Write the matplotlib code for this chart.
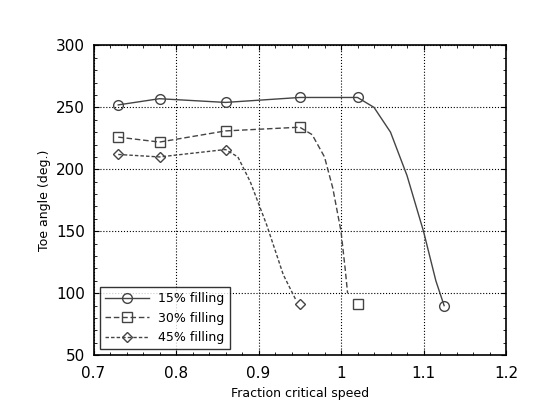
import matplotlib
matplotlib.use('Agg')
import matplotlib.pyplot as plt
from matplotlib.ticker import AutoMinorLocator

# marker points
x15 = [0.73, 0.78, 0.86, 0.95, 1.02, 1.125]
y15 = [252, 257, 254, 258, 258, 90]
x30 = [0.73, 0.78, 0.86, 0.95, 1.02]
y30 = [226, 222, 231, 234, 91]
x45 = [0.73, 0.78, 0.86, 0.95]
y45 = [212, 210, 216, 91]

# curve paths
cx15 = [0.73, 0.78, 0.86, 0.95, 1.02, 1.04, 1.06, 1.08, 1.10, 1.115, 1.125]
cy15 = [252, 257, 254, 258, 258, 250, 230, 195, 150, 110, 90]
cx30 = [0.73, 0.78, 0.86, 0.95, 0.965, 0.98, 0.99, 1.0, 1.005, 1.008]
cy30 = [226, 222, 231, 234, 228, 210, 185, 150, 120, 100]
cx45 = [0.73, 0.78, 0.86, 0.875, 0.89, 0.91, 0.93, 0.945]
cy45 = [212, 210, 216, 210, 190, 155, 115, 95]

fig, ax = plt.subplots(figsize=(5.5, 4.13), dpi=100)
fig.subplots_adjust(left=0.17, right=0.92, bottom=0.14, top=0.89)

c = '#444444'
ax.plot(cx15, cy15, '-', color=c, lw=1)
ax.plot(cx30, cy30, '--', color=c, lw=1, dashes=(4, 2))
ax.plot(cx45, cy45, '--', color=c, lw=1, dashes=(2.5, 1.5))
ax.plot(x15, y15, 'o', mfc='none', mec=c, ms=7)
ax.plot(x30, y30, 's', mfc='none', mec=c, ms=7)
ax.plot(x45, y45, 'D', mfc='none', mec=c, ms=5.5)

# legend proxies
ax.plot([], [], '-o', color=c, mfc='none', lw=1, ms=7, label='15% filling')
ax.plot([], [], '--s', color=c, mfc='none', lw=1, ms=7, dashes=(4, 2), label='30% filling')
ax.plot([], [], '--D', color=c, mfc='none', lw=1, ms=5.5, dashes=(2.5, 1.5), label='45% filling')
ax.legend(loc='lower left', fontsize=9, fancybox=False, edgecolor='black', handlelength=3.5)

ax.set_xlim(0.7, 1.2)
ax.set_ylim(50, 300)
ax.set_xticks([0.7, 0.8, 0.9, 1.0, 1.1, 1.2])
ax.set_xticklabels(['0.7', '0.8', '0.9', '1', '1.1', '1.2'])
ax.xaxis.set_minor_locator(AutoMinorLocator(5))
ax.yaxis.set_minor_locator(AutoMinorLocator(5))
ax.tick_params(which='both', direction='in', top=True, right=True, labelsize=11)
ax.tick_params(axis='x', pad=8)
ax.tick_params(axis='y', pad=6)
ax.grid(True, which='major', color='black', linestyle=':', lw=0.8)
for s in ax.spines.values():
    s.set_linewidth(1.2)
ax.set_xlabel('Fraction critical speed', fontsize=9)
ax.set_ylabel('Toe angle (deg.)', fontsize=9)

plt.savefig('out.png', dpi=100)
